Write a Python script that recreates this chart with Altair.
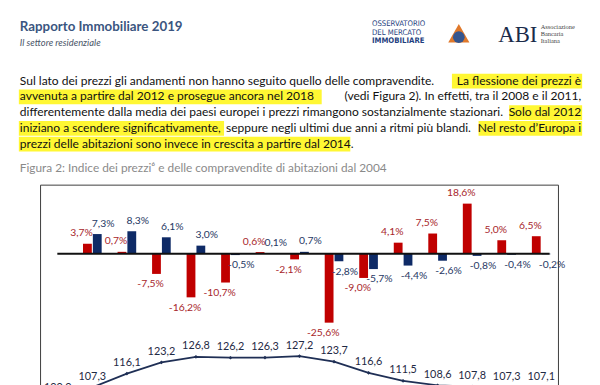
import altair as alt
import pandas as pd

# ---------------- data ----------------
years = list(range(2005, 2019))
compravendite_var = [3.7, 0.7, -7.5, -16.2, -10.7, 0.6, -2.1, -25.6, -9.0, 4.1, 7.5, 18.6, 5.0, 6.5]
prezzi_var = [7.3, 8.3, 6.1, 3.0, -0.5, 0.1, 0.7, -2.8, -5.7, -4.4, -2.6, -0.8, -0.4, -0.2]
index_years = list(range(2004, 2019))
indice_prezzi = [100.0, 107.3, 116.1, 123.2, 126.8, 126.2, 126.3, 127.2, 123.7, 116.6, 111.5, 108.6, 107.8, 107.3, 107.1]


def it_num(v, pct):
    s = f"{v:.1f}".replace(".", ",")
    return s + "%" if pct else s


rows = []
for y, c, p in zip(years, compravendite_var, prezzi_var):
    rows.append({"anno": y, "serie": "compravendite", "v": c, "lab": it_num(c, True)})
    rows.append({"anno": y, "serie": "prezzi", "v": p, "lab": it_num(p, True)})
bars_df = pd.DataFrame(rows)
line_df = pd.DataFrame({"anno": index_years, "idx": indice_prezzi,
                        "lab": [it_num(v, False) for v in indice_prezzi]})

# ---------------- page text ----------------
para_left = pd.DataFrame([
    {"x": 12, "y": 71, "t": "Sul lato dei prezzi gli andamenti non hanno seguito quello delle compravendite."},
    {"x": 12, "y": 87, "t": "avvenuta a partire dal 2012 e prosegue ancora nel 2018"},
    {"x": 12, "y": 103, "t": "differentemente dalla media dei paesi europei i prezzi rimangono sostanzialmente stazionari."},
    {"x": 12, "y": 119, "t": "iniziano a scendere significativamente,"},
    {"x": 221, "y": 119, "t": "seppure negli ultimi due anni a ritmi più blandi."},
    {"x": 12, "y": 135, "t": "prezzi delle abitazioni sono invece in crescita a partire dal 2014."},
])
para_right = pd.DataFrame([
    {"x": 581, "y": 71, "t": "La flessione dei prezzi è"},
    {"x": 581, "y": 87, "t": "(vedi Figura 2). In effetti, tra il 2008 e il 2011,"},
    {"x": 581, "y": 103, "t": "Solo dal 2012"},
    {"x": 581, "y": 119, "t": "Nel resto d’Europa i"},
])
highlights = pd.DataFrame([
    {"x0": 450, "x1": 582, "y0": 64, "y1": 79},
    {"x0": 11, "x1": 318, "y0": 80, "y1": 95},
    {"x0": 508, "x1": 582, "y0": 96, "y1": 111},
    {"x0": 11, "x1": 219, "y0": 112, "y1": 127},
    {"x0": 477, "x1": 582, "y0": 112, "y1": 127},
    {"x0": 11, "x1": 347, "y0": 128, "y1": 143},
])

FONT = "Lato"
RED = "#C00000"
BLUE = "#0E2A66"
RED_T = "#A8262B"
BLUE_T = "#1F3864"
PARA_SIZE = 12.2

xs = alt.Scale(domain=[2004, 2018], range=[50.5, 540.5], zero=False, nice=False)
ys = alt.Scale(domain=[-30, 30], range=[328.4, 164.6], zero=False, nice=False)
yl = alt.Scale(domain=[100, 130], range=[393.6, 345.9], zero=False, nice=False)

layers = []

# highlights
layers.append(alt.Chart(highlights).mark_rect(color="#FFF733").encode(
    x=alt.X("x0:Q", scale=None, axis=None), x2="x1:Q",
    y=alt.Y("y0:Q", scale=None, axis=None), y2="y1:Q"))

# paragraph
layers.append(alt.Chart(para_left).mark_text(align="left", baseline="middle", font=FONT, fontSize=PARA_SIZE, color="#111").encode(
    x=alt.X("x:Q", scale=None, axis=None), y=alt.Y("y:Q", scale=None, axis=None), text="t:N"))
layers.append(alt.Chart(para_right).mark_text(align="right", baseline="middle", font=FONT, fontSize=PARA_SIZE, color="#111").encode(
    x=alt.X("x:Q", scale=None, axis=None), y=alt.Y("y:Q", scale=None, axis=None), text="t:N"))


def txt(s, x, y, **kw):
    return alt.Chart(pd.DataFrame({"t": [s]})).mark_text(**kw).encode(
        x=alt.value(x), y=alt.value(y), text="t:N")


# header
layers.append(txt("Rapporto Immobiliare 2019", 12, 17, align="left", baseline="middle", font=FONT,
                  fontSize=13.5, fontWeight="bold", color="#3A5580"))
layers.append(txt("Il settore residenziale", 12, 33, align="left", baseline="middle", font=FONT,
                  fontSize=9.5, fontStyle="italic", color="#4A5568"))
NARROW = "Liberation Sans Narrow, DejaVu Sans Condensed"
layers.append(txt("OSSERVATORIO", 369, 14, align="left", baseline="middle", font=NARROW, fontSize=7.8, color="#1F3F80"))
layers.append(txt("DEL MERCATO", 369, 22.5, align="left", baseline="middle", font=NARROW, fontSize=7.8, color="#1F3F80"))
layers.append(txt("IMMOBILIARE", 369, 31, align="left", baseline="middle", font=NARROW, fontSize=7.8,
                  fontWeight="bold", color="#1F3F80"))
layers.append(alt.Chart(pd.DataFrame({"a": [0]})).mark_point(shape="triangle-up", filled=True, color="#E0782A", size=460, opacity=1).encode(
    x=alt.value(457), y=alt.value(23)))
layers.append(alt.Chart(pd.DataFrame({"a": [0]})).mark_point(shape="circle", filled=True, color="#34558F", size=140, opacity=1).encode(
    x=alt.value(457), y=alt.value(27)))
layers.append(txt("ABI", 497, 25, align="left", baseline="middle", font="Liberation Serif",
                  fontSize=23, color="#1A2B4A"))
for i, s in enumerate(["Associazione", "Bancaria", "Italiana"]):
    layers.append(txt(s, 540, 17 + 7 * i, align="left", baseline="middle", font="Liberation Serif",
                      fontSize=6.5, color="#444"))

# caption
layers.append(txt("Figura 2: Indice dei prezzi⁶ e delle compravendite di abitazioni dal 2004", 12, 160,
                  align="left", baseline="middle", font=FONT, fontSize=12, color="#8A8A8A"))

# frame
layers.append(alt.Chart(pd.DataFrame({"a": [0]})).mark_rect(fill="white", stroke="#3C3C3C", strokeWidth=1).encode(
    x=alt.value(33), x2=alt.value(558), y=alt.value(177), y2=alt.value(420)))

# bars
bar_base = alt.Chart(bars_df).transform_calculate(
    x0="datum.serie == 'compravendite' ? datum.anno - 0.27 : datum.anno + 0.015",
    x1="datum.serie == 'compravendite' ? datum.anno - 0.015 : datum.anno + 0.27",
)
layers.append(bar_base.mark_bar().encode(
    x=alt.X("x0:Q", scale=xs, axis=None), x2="x1:Q",
    y=alt.Y("v:Q", scale=ys, axis=None), y2=alt.Y2(datum=0),
    color=alt.Color("serie:N", scale=alt.Scale(domain=["compravendite", "prezzi"], range=[RED, BLUE]), legend=None)))

# baseline
layers.append(alt.Chart(pd.DataFrame({"a": [0]})).mark_rule(color="#111", strokeWidth=2).encode(
    x=alt.value(50), x2=alt.value(549), y=alt.YDatum(0, scale=ys, axis=None)))

# bar labels
lab_base = bar_base.transform_calculate(xm="(datum.x0 + datum.x1) / 2")
for serie, col, dx in [("compravendite", RED_T, -6), ("prezzi", BLUE_T, 6)]:
    for cond, dy in [("datum.v >= 0", -10.5), ("datum.v < 0", 10.5)]:
        layers.append(lab_base.transform_filter(f"datum.serie == '{serie}' && {cond}").mark_text(
            baseline="middle", align="center", font=FONT, fontSize=10.5, dy=dy, dx=dx, color=col).encode(
            x=alt.X("xm:Q", scale=xs, axis=None),
            y=alt.Y("v:Q", scale=ys, axis=None),
            text="lab:N"))

# index line
line_base = alt.Chart(line_df)
layers.append(line_base.mark_line(color="#1F2F55", strokeWidth=1.8).encode(
    x=alt.X("anno:Q", scale=xs, axis=None), y=alt.Y("idx:Q", scale=yl, axis=None)))
layers.append(line_base.mark_point(color="#1F2F55", filled=True, size=14, shape="diamond", opacity=1).encode(
    x=alt.X("anno:Q", scale=xs, axis=None), y=alt.Y("idx:Q", scale=yl, axis=None)))
layers.append(line_base.mark_text(color="#1F2A44", font=FONT, fontSize=11, dy=-10.5, baseline="middle").encode(
    x=alt.X("anno:Q", scale=xs, axis=None), y=alt.Y("idx:Q", scale=yl, axis=None), text="lab:N"))

chart = alt.layer(*layers).resolve_scale(x="independent", y="independent", color="independent").properties(
    width=592, height=377, padding=0, autosize=alt.AutoSizeParams(type="none"),
    background="white",
).configure_view(stroke=None)

chart.save("out.html", embed_options={"renderer": "svg", "actions": False})
